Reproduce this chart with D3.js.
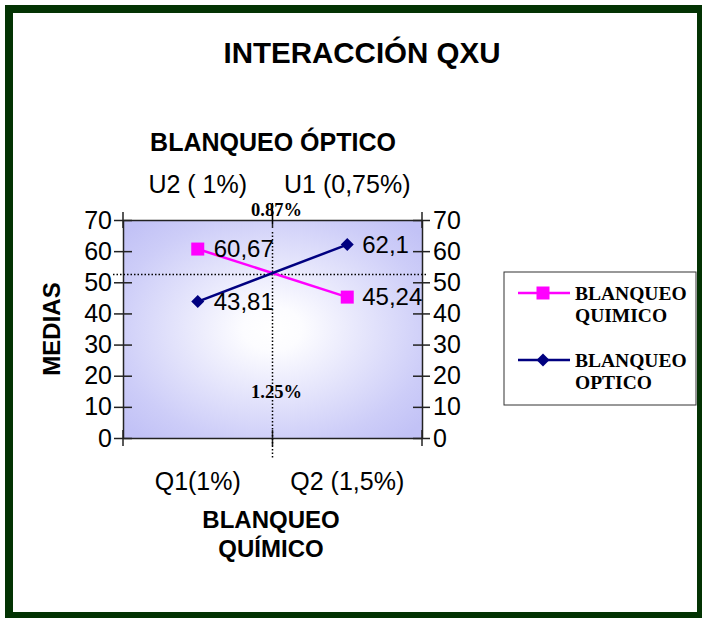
<!DOCTYPE html>
<html>
<head>
<meta charset="utf-8">
<script src="https://cdn.jsdelivr.net/npm/d3@7"></script>
<style>
  html, body { margin: 0; padding: 0; background: #fff; }
  svg { display: block; font-family: "Liberation Sans", Arial, sans-serif; }
  .serif { font-family: "Liberation Serif", "Times New Roman", serif; font-weight: bold; }
</style>
</head>
<body>
<div id="chart"></div>
<script>
// values
const categoriesQ = ["Q1(1%)", "Q2 (1,5%)"];
const categoriesU = ["U2 ( 1%)", "U1 (0,75%)"];
const quimico = [60.67, 45.24];
const optico = [43.81, 62.1];
const yTicks = [0, 10, 20, 30, 40, 50, 60, 70];
const refLabels = ["0.87%", "1.25%"];
const refCross = 52.5;

const width = 702;
const height = 619;
const margin = { top: 220, right: 280, bottom: 181, left: 123 };

const series = [
  { name: ["BLANQUEO", "QUIMICO"], values: quimico, color: "#ff00ff", symbol: d3.symbolSquare, size: 169, rotate: 0 },
  { name: ["BLANQUEO", "OPTICO"], values: optico, color: "#000080", symbol: d3.symbolSquare, size: 85, rotate: 45 },
];

const svg = d3.select("#chart").append("svg")
  .attr("width", width)
  .attr("height", height);

// frame
svg.append("rect").attr("x", 5).attr("y", 5).attr("width", 697).attr("height", 613).attr("fill", "#033303");
svg.append("rect").attr("x", 13).attr("y", 13).attr("width", 684).attr("height", 599).attr("fill", "#fff");

const x = d3.scaleBand()
  .domain([0, 1])
  .range([margin.left, width - margin.right]);
const y = d3.scaleLinear()
  .domain([0, 70])
  .range([height - margin.bottom, margin.top]);

const x0 = x.range()[0], x1 = x.range()[1];
const y0 = y.range()[0], y1 = y.range()[1];
const cx = (i) => x(i) + x.bandwidth() / 2;

// plot background
const grad = svg.append("defs").append("radialGradient")
  .attr("id", "bg").attr("cx", "50%").attr("cy", "50%").attr("r", "66%");
grad.append("stop").attr("offset", "0").attr("stop-color", "#ffffff");
grad.append("stop").attr("offset", "0.15").attr("stop-color", "#fcfcff");
grad.append("stop").attr("offset", "0.8").attr("stop-color", "#cdcdf8");
grad.append("stop").attr("offset", "1").attr("stop-color", "#c2c2f6");

svg.append("rect")
  .attr("x", x0).attr("y", y1)
  .attr("width", x1 - x0).attr("height", y0 - y1)
  .attr("fill", "url(#bg)");

// titles
svg.append("text")
  .attr("x", 362).attr("y", 63)
  .attr("text-anchor", "middle")
  .attr("font-weight", "bold").attr("font-size", 29.5)
  .text("INTERACCIÓN QXU");

svg.append("text")
  .attr("x", 273).attr("y", 151)
  .attr("text-anchor", "middle")
  .attr("font-weight", "bold").attr("font-size", 25)
  .text("BLANQUEO ÓPTICO");

svg.append("text")
  .attr("text-anchor", "middle")
  .attr("font-weight", "bold").attr("font-size", 24)
  .selectAll("tspan")
  .data(["BLANQUEO", "QUÍMICO"])
  .join("tspan")
  .attr("x", 271)
  .attr("y", (d, i) => 528 + i * 29)
  .text((d) => d);

svg.append("text")
  .attr("transform", "translate(60,329) rotate(-90)")
  .attr("text-anchor", "middle")
  .attr("font-weight", "bold").attr("font-size", 24)
  .text("MEDIAS");

// value axes
const styleAxis = (g) => {
  g.select(".domain").attr("stroke", "#222").attr("stroke-width", 1.5);
  g.selectAll(".tick line").attr("stroke", "#222").attr("stroke-width", 1.5);
  g.selectAll(".tick text").attr("font-size", 25).attr("fill", "#000");
};

svg.append("g")
  .attr("transform", `translate(${x0},0)`)
  .call(d3.axisLeft(y).tickValues(yTicks).tickSize(9).tickPadding(2).tickSizeOuter(0))
  .call(styleAxis)
  .call((g) => g.selectAll(".tick line").attr("x1", 9));

svg.append("g")
  .attr("transform", `translate(${x1},0)`)
  .call(d3.axisRight(y).tickValues(yTicks).tickSize(8).tickPadding(3).tickSizeOuter(0))
  .call(styleAxis)
  .call((g) => g.selectAll(".tick line").attr("x1", -9));

// category axes
const bounds = [x0, ...x.domain().map((d) => x(d) + x.bandwidth())];

svg.append("g")
  .attr("transform", `translate(0,${y0})`)
  .call(d3.axisBottom(x).tickFormat((d) => categoriesQ[d]).tickSize(0).tickPadding(34))
  .call(styleAxis)
  .call((g) => g.selectAll(".bound").data(bounds).join("line")
    .attr("class", "bound")
    .attr("x1", (d) => d).attr("x2", (d) => d)
    .attr("y1", -8).attr("y2", 8)
    .attr("stroke", "#222").attr("stroke-width", 1.5));

svg.append("g")
  .attr("transform", `translate(0,${y1})`)
  .call(d3.axisTop(x).tickFormat((d) => categoriesU[d]).tickSize(0).tickPadding(27))
  .call(styleAxis)
  .call((g) => g.selectAll(".bound").data(bounds).join("line")
    .attr("class", "bound")
    .attr("x1", (d) => d).attr("x2", (d) => d)
    .attr("y1", -8).attr("y2", 8)
    .attr("stroke", "#222").attr("stroke-width", 1.5));

// crossing reference lines
const xMid = (cx(0) + cx(1)) / 2;
svg.append("line")
  .attr("x1", xMid).attr("x2", xMid)
  .attr("y1", y1 - 17).attr("y2", y1 + 4)
  .attr("stroke", "#000").attr("stroke-width", 1.2);
svg.append("line")
  .attr("x1", xMid).attr("x2", xMid)
  .attr("y1", y1 + 12).attr("y2", y0 + 20)
  .attr("stroke", "#000").attr("stroke-width", 1.5)
  .attr("stroke-dasharray", "1.5,2");
svg.append("line")
  .attr("x1", x0 - 10).attr("x2", x1 + 5)
  .attr("y1", y(refCross)).attr("y2", y(refCross))
  .attr("stroke", "#000").attr("stroke-width", 1.5)
  .attr("stroke-dasharray", "1.5,2");

svg.selectAll(".ref")
  .data(refLabels)
  .join("text")
  .attr("class", "ref serif")
  .attr("x", xMid + 4)
  .attr("y", (d, i) => (i === 0 ? y1 - 4 : y(13)))
  .attr("text-anchor", "middle")
  .attr("font-size", 18.5)
  .text((d) => d);

// lines
const line = d3.line().x((d, i) => cx(i)).y((d) => y(d));

const gSeries = svg.selectAll(".series")
  .data(series)
  .join("g")
  .attr("class", "series");

gSeries.append("path")
  .attr("fill", "none")
  .attr("stroke", (d) => d.color)
  .attr("stroke-width", 2.5)
  .attr("d", (d) => line(d.values));

gSeries.selectAll("path.mark")
  .data((d) => d.values.map((v, i) => ({ v, i, s: d })))
  .join("path")
  .attr("class", "mark")
  .attr("transform", (d) => `translate(${cx(d.i)},${y(d.v)}) rotate(${d.s.rotate})`)
  .attr("d", (d) => d3.symbol(d.s.symbol, d.s.size)())
  .attr("fill", (d) => d.s.color);

gSeries.selectAll("text.lbl")
  .data((d) => d.values.map((v, i) => ({ v, i })))
  .join("text")
  .attr("class", "lbl")
  .attr("x", (d) => cx(d.i) + (d.i === 0 ? 16 : 15))
  .attr("y", (d) => y(d.v) + 8)
  .attr("font-size", 24)
  .text((d) => String(d.v).replace(".", ","));

// legend
const legend = svg.append("g").attr("transform", "translate(504,272)");
legend.append("rect")
  .attr("width", 192).attr("height", 133)
  .attr("fill", "#fff").attr("stroke", "#333").attr("stroke-width", 1);

const item = legend.selectAll(".item")
  .data(series)
  .join("g")
  .attr("class", "item")
  .attr("transform", (d, i) => `translate(0,${21 + i * 67})`);

item.append("line")
  .attr("x1", 14).attr("x2", 66)
  .attr("stroke", (d) => d.color).attr("stroke-width", 2.5);
item.append("path")
  .attr("transform", (d) => `translate(39,0) rotate(${d.rotate})`)
  .attr("d", (d) => d3.symbol(d.symbol, d.size)())
  .attr("fill", (d) => d.color);
item.append("text")
  .attr("class", "serif")
  .attr("font-size", 19.5)
  .selectAll("tspan")
  .data((d) => d.name)
  .join("tspan")
  .attr("x", 71)
  .attr("y", (d, i) => 7 + i * 22)
  .text((d) => d);
</script>
</body>
</html>
